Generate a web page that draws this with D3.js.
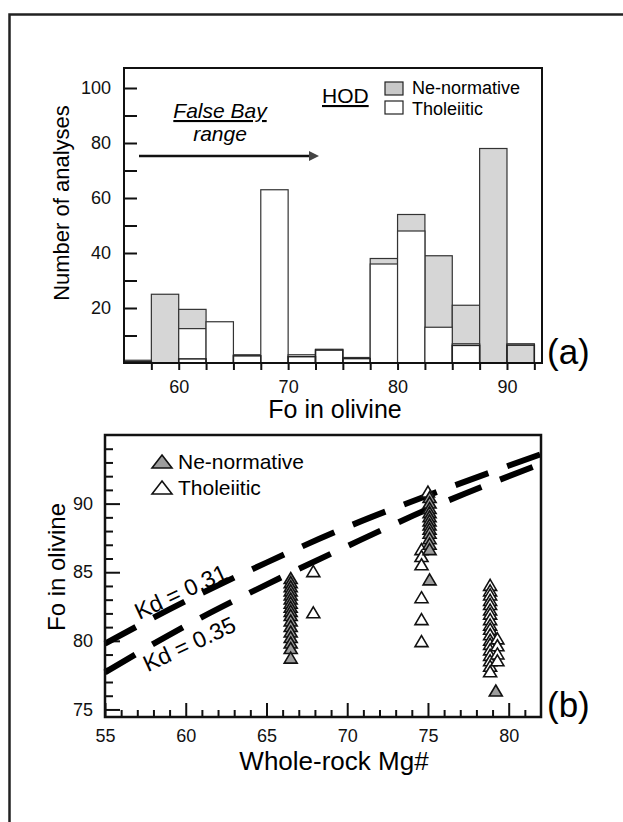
<!DOCTYPE html>
<html lang="en">
<head>
<meta charset="UTF-8">
<title>Fo in olivine: histogram and whole-rock Mg#</title>
<script src="https://d3js.org/d3.v7.min.js"></script>
<style>
  body { margin: 0; background: #fff; }
  svg { display: block; font-family: Arial, "Liberation Sans", sans-serif; }
  .axis text { font-size: 18px; fill: #111; }
  .axis line { stroke: #111; stroke-width: 2; }
  .axis path { display: none; }
</style>
</head>
<body>
<svg id="chart" width="623" height="822"></svg>
<script>
// ---- panel (a): histogram of Fo in olivine, 2.5 unit bins
const binStarts = [55, 57.5, 60, 62.5, 65, 67.5, 70, 72.5, 75, 77.5, 80, 82.5, 85, 87.5, 90];
const binWidth = 2.5;
const tholeiiticCounts = [1, 0, 12.5, 15, 3, 63, 3, 5, 2, 36, 48, 13, 7, 0, 0];
const neNormativeCounts = [0, 25, 7, 0, 0, 0, 0, 0, 0, 2, 6, 26, 14, 78, 7];
// small overlapping outline bars seen inside some bins
const secondaryCounts = [0.5, 0, 1.5, 0, 2.6, 0, 2.3, 4.7, 1.6, 0, 0, 0, 6.4, 0, 6.5];

// ---- panel (b): Fo in olivine vs whole-rock Mg#  [Mg#, Fo]
const neNormativePts = [
  [66.5, 84.5], [66.5, 84.2], [66.5, 83.9], [66.5, 83.6], [66.5, 83.3], [66.5, 83.0],
  [66.5, 82.7], [66.5, 82.4], [66.5, 82.1], [66.5, 81.8], [66.5, 81.4], [66.5, 81.0],
  [66.5, 80.6], [66.5, 80.2], [66.5, 79.8], [66.5, 79.4], [66.5, 78.7],
  [75.1, 90.4], [75.1, 90.0], [75.1, 89.6], [75.1, 89.3], [75.1, 89.0], [75.1, 88.7],
  [75.1, 88.4], [75.1, 88.1], [75.1, 87.8], [75.1, 87.4], [75.1, 87.0], [75.1, 86.6],
  [75.1, 84.4],
  [79.2, 76.3]
];
const tholeiiticPts = [
  [67.9, 85.0], [67.9, 82.0],
  [75.0, 90.8], [74.6, 86.6], [74.6, 86.1], [74.6, 85.5], [74.6, 83.1], [74.6, 81.5], [74.6, 79.9],
  [78.85, 84.0], [78.85, 83.6], [78.85, 83.3], [78.85, 82.9], [78.85, 82.6], [78.85, 82.2],
  [78.85, 81.9], [78.85, 81.5], [78.85, 81.1], [78.85, 80.8], [78.85, 80.4], [78.85, 80.0],
  [78.85, 79.7], [78.85, 79.3], [78.85, 78.9], [78.85, 78.5], [78.85, 78.1], [78.85, 77.7],
  [79.3, 80.1], [79.3, 79.6], [79.3, 79.0], [79.3, 78.5]
];
// Kd reference lines
const kd031Line = [[55, 79.8], [60, 82.9], [65, 85.7], [70, 88.3], [75, 90.6], [82, 93.6]];
const kd035Line = [[55, 77.7], [60, 81.1], [65, 84.1], [70, 86.9], [75, 89.6], [82, 92.9]];

const svg = d3.select('#chart');

// outer border of the figure
svg.append('rect')
  .attr('x', 9.5).attr('y', 14.5).attr('width', 640).attr('height', 900)
  .attr('fill', 'none').attr('stroke', '#222').attr('stroke-width', 2.5);

// ================= panel (a) =================
const xA = d3.scaleLinear().domain([55, 93.2]).range([124, 542]);
const yA = d3.scaleLinear().domain([0, 100]).range([363, 88]);
const gA = svg.append('g');

const bins = binStarts.map((b, i) => ({
  x0: b, x1: b + binWidth,
  thol: tholeiiticCounts[i], ne: neNormativeCounts[i], extra: secondaryCounts[i]
}));

// grey = total (Ne-normative stacked on top), white = tholeiitic part
gA.selectAll('rect.ne')
  .data(bins.filter(d => d.ne > 0))
  .join('rect')
  .attr('class', 'ne')
  .attr('x', d => xA(d.x0))
  .attr('width', d => xA(d.x1) - xA(d.x0))
  .attr('y', d => yA(d.thol + d.ne))
  .attr('height', d => yA(0) - yA(d.thol + d.ne))
  .attr('fill', '#d6d6d6').attr('stroke', '#333').attr('stroke-width', 1.2);

gA.selectAll('rect.thol')
  .data(bins.filter(d => d.thol > 0))
  .join('rect')
  .attr('class', 'thol')
  .attr('x', d => xA(d.x0))
  .attr('width', d => xA(d.x1) - xA(d.x0))
  .attr('y', d => yA(d.thol))
  .attr('height', d => yA(0) - yA(d.thol))
  .attr('fill', '#fff').attr('stroke', '#333').attr('stroke-width', 1.2);

gA.selectAll('rect.extra')
  .data(bins.filter(d => d.extra > 0))
  .join('rect')
  .attr('class', 'extra')
  .attr('x', d => xA(d.x0))
  .attr('width', d => xA(d.x1) - xA(d.x0))
  .attr('y', d => yA(d.extra))
  .attr('height', d => yA(0) - yA(d.extra))
  .attr('fill', 'none').attr('stroke', '#222').attr('stroke-width', 1.5);

// axes
gA.append('g')
  .attr('class', 'axis')
  .attr('transform', `translate(0,${yA(0)})`)
  .call(d3.axisBottom(xA)
    .tickValues(d3.range(57.5, 93, 2.5))
    .tickSize(7).tickPadding(10)
    .tickFormat(d => d % 10 === 0 ? d : ''));

gA.append('g')
  .attr('class', 'axis')
  .attr('transform', `translate(${xA(55)},0)`)
  .call(d3.axisLeft(yA)
    .tickValues(d3.range(10, 101, 10))
    .tickSize(-13).tickPadding(13)
    .tickFormat(d => d % 20 === 0 ? d : ''));

gA.append('rect')
  .attr('x', 124).attr('y', 68).attr('width', 542 - 124).attr('height', 363 - 68)
  .attr('fill', 'none').attr('stroke', '#111').attr('stroke-width', 2);

// legend (a)
gA.append('text').attr('x', 322).attr('y', 103)
  .style('font-size', '21px').style('text-decoration', 'underline').text('HOD');
gA.append('rect').attr('x', 385).attr('y', 82).attr('width', 18).attr('height', 13)
  .attr('fill', '#c8c8c8').attr('stroke', '#222').attr('stroke-width', 1.2);
gA.append('text').attr('x', 412).attr('y', 94).style('font-size', '18px').text('Ne-normative');
gA.append('rect').attr('x', 385).attr('y', 101).attr('width', 18).attr('height', 13)
  .attr('fill', '#fff').attr('stroke', '#222').attr('stroke-width', 1.2);
gA.append('text').attr('x', 412).attr('y', 115).style('font-size', '18px').text('Tholeiitic');

// False Bay range annotation
gA.append('text').attr('x', 220).attr('y', 118).attr('text-anchor', 'middle')
  .style('font-size', '21px').style('font-style', 'italic').style('text-decoration', 'underline')
  .text('False Bay');
gA.append('text').attr('x', 220).attr('y', 141).attr('text-anchor', 'middle')
  .style('font-size', '21px').style('font-style', 'italic').text('range');
gA.append('line').attr('x1', 139).attr('x2', 310).attr('y1', 156).attr('y2', 156)
  .attr('stroke', '#111').attr('stroke-width', 2.5);
gA.append('path').attr('d', 'M309,151L319,156L309,161Z').attr('fill', '#444');

gA.append('text').attr('x', 547).attr('y', 364).style('font-size', '35px').text('(a)');

gA.append('text').attr('x', 335).attr('y', 418).attr('text-anchor', 'middle')
  .style('font-size', '25px').text('Fo in olivine');
gA.append('text').attr('transform', 'translate(69,203) rotate(-90)').attr('text-anchor', 'middle')
  .style('font-size', '22px').text('Number of analyses');

// ================= panel (b) =================
const xB = d3.scaleLinear().domain([55, 82]).range([105, 541]);
const yB = d3.scaleLinear().domain([74.45, 95]).range([717, 435]);
const gB = svg.append('g');

const majorX = d3.range(55, 81, 5);
const majorY = [75, 80, 85, 90];

gB.append('g').attr('class', 'axis')
  .attr('transform', `translate(0,${yB.range()[0]})`)
  .call(d3.axisBottom(xB)
    .tickValues(d3.range(56, 82, 1).filter(v => v % 5 !== 0))
    .tickSize(-7).tickFormat(''));
gB.append('g').attr('class', 'axis')
  .attr('transform', `translate(0,${yB.range()[0]})`)
  .call(d3.axisBottom(xB).tickValues(majorX).tickSize(-14).tickPadding(12));

gB.append('g').attr('class', 'axis')
  .attr('transform', `translate(${xB(55)},0)`)
  .call(d3.axisLeft(yB)
    .tickValues(d3.range(75, 95, 1).filter(v => v % 5 !== 0))
    .tickSize(-8).tickFormat(''));
gB.append('g').attr('class', 'axis')
  .attr('transform', `translate(${xB(55)},0)`)
  .call(d3.axisLeft(yB).tickValues(majorY).tickSize(-15).tickPadding(12));

// Kd lines
const kdPath = d3.line().x(d => xB(d[0])).y(d => yB(d[1])).curve(d3.curveMonotoneX);
[kd031Line, kd035Line].forEach(pts => {
  gB.append('path').attr('d', kdPath(pts))
    .attr('fill', 'none').attr('stroke', '#000').attr('stroke-width', 6)
    .attr('stroke-dasharray', '35 20');
});

gB.append('text')
  .attr('transform', `translate(${xB(59.9)},${yB(82.9) - 2}) rotate(-25)`)
  .attr('text-anchor', 'middle').style('font-size', '23px').text('Kd = 0.31');
gB.append('text')
  .attr('transform', `translate(${xB(60.3) + 2},${yB(81.2) + 27}) rotate(-25)`)
  .attr('text-anchor', 'middle').style('font-size', '23px').text('Kd = 0.35');

// triangles
const tri = (w, h) => `M0,${-h * 0.6}L${w / 2},${h * 0.4}L${-w / 2},${h * 0.4}Z`;

gB.selectAll('path.thol')
  .data(tholeiiticPts)
  .join('path')
  .attr('class', 'thol')
  .attr('d', tri(13, 11))
  .attr('transform', d => `translate(${xB(d[0])},${yB(d[1])})`)
  .attr('fill', '#fff').attr('stroke', '#111').attr('stroke-width', 1.6);

gB.selectAll('path.ne')
  .data(neNormativePts)
  .join('path')
  .attr('class', 'ne')
  .attr('d', tri(13, 11))
  .attr('transform', d => `translate(${xB(d[0])},${yB(d[1])})`)
  .attr('fill', '#9c9c9c').attr('stroke', '#111').attr('stroke-width', 1.6);

gB.append('rect')
  .attr('x', 105).attr('y', 435).attr('width', 541 - 105).attr('height', 717 - 435)
  .attr('fill', 'none').attr('stroke', '#111').attr('stroke-width', 2.5);

// legend (b)
gB.append('path').attr('d', 'M162,455L172,468L152,468Z')
  .attr('fill', '#9c9c9c').attr('stroke', '#111').attr('stroke-width', 1.6);
gB.append('text').attr('x', 178).attr('y', 469).style('font-size', '21px').text('Ne-normative');
gB.append('path').attr('d', 'M162,481L172,494L152,494Z')
  .attr('fill', '#fff').attr('stroke', '#111').attr('stroke-width', 1.6);
gB.append('text').attr('x', 178).attr('y', 495).style('font-size', '21px').text('Tholeiitic');

gB.append('text').attr('x', 547).attr('y', 717).style('font-size', '35px').text('(b)');

gB.append('text').attr('x', 334).attr('y', 770).attr('text-anchor', 'middle')
  .style('font-size', '26px').text('Whole-rock Mg#');
gB.append('text').attr('transform', 'translate(65,567) rotate(-90)').attr('text-anchor', 'middle')
  .style('font-size', '24px').text('Fo in olivine');
</script>
</body>
</html>
